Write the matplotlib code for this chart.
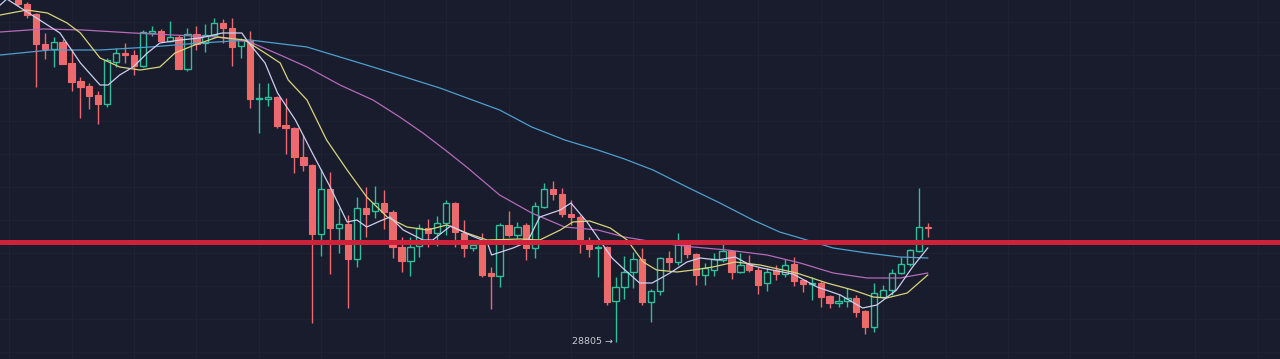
import numpy as np
import matplotlib.pyplot as plt
from matplotlib.patches import Rectangle

# OHLC of the visible candles
opens = [32275, 32185, 32085, 31785, 31735, 31805, 31595, 31415, 31365, 31275,
         31185, 31605, 31695, 31675, 31565, 31895, 31915, 31815, 31855, 31535,
         31885, 31795, 31875, 31995, 31945, 31765, 31815, 31235, 31235, 31255,
         30975, 30945, 30655, 30575, 29885, 30335, 29945, 29985, 29635, 30145,
         30115, 30195, 30105, 29755, 29615, 29765, 29945, 29895, 29995, 30195,
         29895, 29745, 29775, 29495, 29465, 29975, 29875, 29975, 29745, 30155,
         30335, 30285, 30085, 30055, 29785, 29745, 29755, 29215, 29355, 29505,
         29635, 29205, 29315, 29645, 29605, 29795, 29685, 29475, 29525, 29625,
         29715, 29505, 29585, 29525, 29395, 29525, 29485, 29585, 29425, 29385,
         29395, 29265, 29195, 29215, 29245, 29115, 28955, 29255, 29325, 29495,
         29585, 29715, 29955]
highs = [32325, 32205, 32095, 31895, 31855, 31835, 31735, 31455, 31395, 31315,
         31645, 31745, 31795, 31725, 31925, 31965, 31935, 32015, 31875, 31945,
         31965, 31985, 32045, 32035, 32045, 31845, 31915, 31395, 31395, 31265,
         31245, 30955, 30875, 30585, 30535, 30505, 30145, 30075, 30255, 30355,
         30365, 30325, 30125, 29855, 29855, 29985, 30035, 30065, 30225, 30205,
         30025, 29795, 29895, 29555, 29995, 30115, 30005, 29995, 30205, 30395,
         30415, 30345, 30225, 30075, 29855, 29775, 29765, 29455, 29665, 29705,
         29745, 29335, 29655, 29715, 29895, 29805, 29695, 29595, 29695, 29805,
         29725, 29695, 29675, 29555, 29545, 29575, 29635, 29655, 29435, 29455,
         29415, 29275, 29285, 29345, 29275, 29125, 29395, 29375, 29535, 29655,
         29735, 30345, 29995]
lows = [32165, 32045, 31355, 31635, 31555, 31585, 31315, 31045, 31135, 30985,
        31155, 31555, 31595, 31475, 31555, 31865, 31805, 31805, 31535, 31515,
        31725, 31705, 31855, 31795, 31565, 31645, 31145, 30895, 31165, 30945,
        30685, 30495, 30515, 28995, 29665, 29485, 29695, 29145, 29555, 29855,
        30045, 29935, 29645, 29505, 29465, 29655, 29755, 29765, 29875, 29755,
        29655, 29715, 29455, 29135, 29355, 29855, 29845, 29625, 29645, 30145,
        30225, 30055, 29975, 29695, 29655, 29455, 29175, 28805, 29235, 29345,
        29175, 29005, 29275, 29525, 29575, 29645, 29375, 29375, 29465, 29605,
        29435, 29495, 29505, 29285, 29315, 29425, 29455, 29365, 29305, 29225,
        29155, 29145, 29155, 29155, 29055, 28885, 28905, 29245, 29275, 29485,
        29565, 29705, 29855]
closes = [32185, 32075, 31785, 31735, 31805, 31585, 31405, 31355, 31265, 31185,
          31625, 31695, 31675, 31565, 31905, 31915, 31815, 31855, 31535, 31885,
          31785, 31875, 31995, 31945, 31755, 31825, 31235, 31245, 31255, 30965,
          30945, 30655, 30575, 29885, 30335, 29945, 29985, 29635, 30145, 30085,
          30195, 30105, 29755, 29615, 29755, 29945, 29895, 29995, 30195, 29905,
          29745, 29775, 29475, 29465, 29975, 29875, 29955, 29745, 30165, 30335,
          30285, 30085, 30055, 29785, 29735, 29755, 29205, 29355, 29505, 29635,
          29205, 29315, 29645, 29605, 29785, 29685, 29475, 29545, 29635, 29715,
          29505, 29575, 29525, 29375, 29505, 29485, 29575, 29415, 29385, 29395,
          29255, 29195, 29215, 29245, 29105, 28955, 29295, 29325, 29495, 29585,
          29725, 29955, 29945]

# moving averages (candle index, price)
ma5_x = [-2, -1, 0, 1, 4.7, 7, 9.2, 10.1, 11.4, 12.9, 14.5, 15.9, 18.2, 20.4, 22.9,
         25.1, 25.8, 27.7, 29.1, 31.1, 33, 35, 36.9, 38, 39.1, 40.6, 41.7, 43.2,
         45.4, 46.5, 48.5, 50.9, 52.6, 53.1, 55.5, 57.1, 58.5, 60.8, 62, 63.8,
         65.2, 66.6, 67.8, 69.7, 71.1, 73.1, 75, 76.5, 78.4, 80.4, 82.1, 83.4,
         86.9, 89.6, 92.2, 94.7, 96.3, 98.5, 100.3, 102]
ma5_y = [32175, 32255, 32305, 32235, 31895, 31595, 31375, 31375, 31475, 31555,
         31695, 31795, 31825, 31845, 31895, 31895, 31805, 31595, 31295, 31025,
         30695, 30355, 30005, 30025, 29955, 30015, 30055, 29925, 29825, 29825,
         29965, 29865, 29805, 29675, 29745, 29805, 30055, 30125, 30195, 30005,
         29825, 29645, 29545, 29395, 29395, 29495, 29605, 29645, 29625, 29655,
         29575, 29545, 29485, 29355, 29275, 29145, 29175, 29325, 29555, 29745]

ma10_x = [-2, 1, 3.3, 5.5, 7, 9.2, 11.4, 13.7, 15.9, 17.6, 19.8, 22.4, 25.4, 27.7,
          29.4, 30.3, 32.4, 34.6, 36.9, 39.1, 41.4, 43.6, 45.9, 48.1, 50.3, 52.6,
          56.3, 58.5, 60.8, 62.2, 64.1, 66.4, 68.3, 70.1, 71.6, 73.9, 75.7, 77.9,
          80.4, 83.2, 87.3, 90.7, 93.6, 95.9, 97.4, 99.7, 102]
ma10_y = [32075, 32125, 32095, 31995, 31895, 31645, 31555, 31525, 31555, 31695,
          31775, 31855, 31825, 31695, 31595, 31425, 31225, 30825, 30525, 30255,
          30055, 29955, 29925, 29975, 29895, 29825, 29835, 29825, 29925, 30005,
          30015, 29945, 29825, 29605, 29525, 29505, 29525, 29555, 29605, 29575,
          29495, 29395, 29325, 29255, 29245, 29295, 29475]

ma30_x = [-2, 2.8, 7.3, 12.9, 17.4, 22.3, 26, 29.4, 32.4, 36.1, 39.8, 42.8, 45.4,
          47.9, 50.3, 54, 57.6, 61.3, 65, 68, 72, 75.7, 79.5, 84, 87.7, 91.4,
          95.2, 98.9, 102]
ma30_y = [31905, 31935, 31925, 31895, 31875, 31855, 31805, 31675, 31555, 31375,
          31225, 31055, 30895, 30725, 30555, 30275, 30095, 29955, 29925, 29855,
          29795, 29755, 29725, 29675, 29595, 29495, 29445, 29445, 29495]

ma60_x = [-2, 3.6, 9.2, 14.8, 20.4, 26, 32.4, 39.8, 47.3, 54, 57.6, 61.3, 65, 68,
          71.2, 75, 78.7, 82.4, 85.4, 87.7, 91.4, 95.2, 98.9, 102]
ma60_y = [31675, 31725, 31725, 31755, 31795, 31825, 31755, 31555, 31345, 31125,
          30955, 30825, 30725, 30635, 30525, 30355, 30195, 30025, 29905, 29845,
          29745, 29695, 29655, 29645]

level = 29805
low_label = "28805 →"

bg = "#181c2c"
up_col = "#2fbf9a"
down_col = "#ec6a6e"

fig = plt.figure(figsize=(12.8, 3.59), dpi=100, facecolor=bg)
ax = fig.add_axes([0, 0, 1, 1])
ax.set_facecolor(bg)

# very faint grid
for gx in np.arange(-1, 142, 7):
    ax.axvline(gx, color="#1e2333", lw=0.8, zorder=0)
for gy in np.arange(28705, 32300, 330):
    ax.axhline(gy, color="#1d2232", lw=0.8, zorder=0)

w = 0.7
for i in range(len(opens)):
    o, h, l, c = opens[i], highs[i], lows[i], closes[i]
    if c >= o:
        ax.vlines(i, l, h, color=up_col, lw=1, zorder=2)
        ax.add_patch(Rectangle((i - w / 2, o), w, c - o, facecolor=bg,
                               edgecolor=up_col, lw=1, zorder=3))
    else:
        ax.vlines(i, l, h, color=down_col, lw=1, zorder=2)
        ax.add_patch(Rectangle((i - w / 2, c), w, max(o - c, 12), facecolor=down_col,
                               edgecolor=down_col, lw=0.8, zorder=3))

ax.plot(ma60_x, ma60_y, color="#4f9fd0", lw=0.9, zorder=4)
ax.plot(ma30_x, ma30_y, color="#b66ab8", lw=0.9, zorder=4)
ax.plot(ma10_x, ma10_y, color="#d9d47c", lw=0.9, zorder=5)
ax.plot(ma5_x, ma5_y, color="#cfcdf0", lw=0.9, zorder=6)

ax.axhline(level, color="#d0213a", lw=3.6, zorder=7)

low_i = int(np.argmin(lows))
ax.annotate(low_label, xy=(low_i, lows[low_i]), xytext=(-2, 0),
            textcoords="offset points", ha="right", va="center",
            color="#c9cdd8", fontsize=6.8, zorder=8)

ax.set_xlim(-2.02, 141.5)
ax.set_ylim(28635, 32225)
ax.axis("off")

fig.savefig("out.png", dpi=100, facecolor=bg)
